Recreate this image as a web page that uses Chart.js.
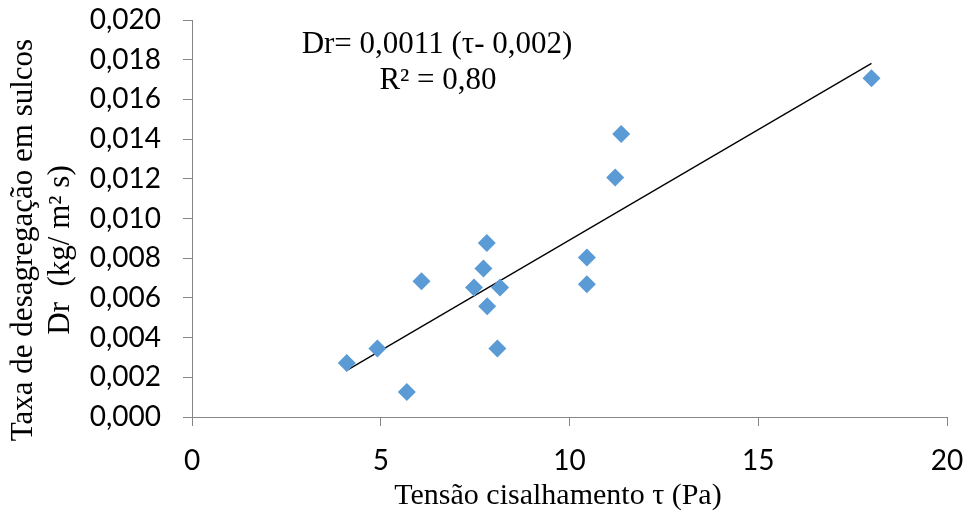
<!DOCTYPE html>
<html>
<head>
<meta charset="utf-8">
<script src="https://cdn.jsdelivr.net/npm/chart.js@4"></script>
<style>
  html, body { margin: 0; padding: 0; background: #fff; }
  #wrap { width: 965px; height: 521px; }
</style>
</head>
<body>
<div id="wrap"><canvas id="chart" width="965" height="521"></canvas></div>
<script>
// Data
const tau = [4.10, 4.91, 5.69, 6.08, 7.47, 7.72, 7.81, 7.82, 8.16, 8.09, 10.46, 10.46, 11.21, 11.37, 18.0];
const dr = [0.00272, 0.00345, 0.00126, 0.00684, 0.00652, 0.00748, 0.00877, 0.00558, 0.00652, 0.00345, 0.00804, 0.00669, 0.01207, 0.01426, 0.01706];
const xTicks = [0, 5, 10, 15, 20];
const yTicks = [0, 0.002, 0.004, 0.006, 0.008, 0.010, 0.012, 0.014, 0.016, 0.018, 0.020];

const yTitle = ['Taxa de desagregação em sulcos', 'Dr  (kg/ m² s)'];
const xTitle = 'Tensão cisalhamento τ (Pa)';
const equation = ['Dr= 0,0011 (τ- 0,002)', 'R² = 0,80'];

// least squares trend line over the points
function fitLine(xs, ys) {
  const n = xs.length;
  const mx = xs.reduce((a, b) => a + b, 0) / n;
  const my = ys.reduce((a, b) => a + b, 0) / n;
  let sxy = 0, sxx = 0;
  for (let i = 0; i < n; i++) {
    sxy += (xs[i] - mx) * (ys[i] - my);
    sxx += (xs[i] - mx) * (xs[i] - mx);
  }
  const b = sxy / sxx;
  return { b: b, a: my - b * mx };
}
const fit = fitLine(tau, dr);
const xMin = Math.min(...tau), xMax = Math.max(...tau);
const trend = [
  { x: xMin, y: fit.a + fit.b * xMin },
  { x: xMax, y: fit.a + fit.b * xMax }
];

const points = tau.map((t, i) => ({ x: t, y: dr[i] }));

const axisColor = '#868686';
const serif = '"Liberation Serif", "Times New Roman", serif';

const textPlugin = {
  id: 'texts',
  afterDraw(chart) {
    const ctx = chart.ctx;
    ctx.save();
    ctx.fillStyle = '#000';
    ctx.textAlign = 'center';
    ctx.textBaseline = 'middle';

    // y title, rotated
    ctx.font = '31px ' + serif;
    ctx.save();
    ctx.translate(24, 240);
    ctx.rotate(-Math.PI / 2);
    ctx.fillText(yTitle[0], 0, 0);
    ctx.restore();
    ctx.save();
    ctx.translate(61, 250);
    ctx.rotate(-Math.PI / 2);
    ctx.fillText(yTitle[1], 0, 0);
    ctx.restore();

    // x title
    ctx.font = '30px ' + serif;
    ctx.fillText(xTitle, 558, 496);

    // equation
    ctx.font = '31px ' + serif;
    ctx.fillText(equation[0], 437, 45);
    ctx.fillText(equation[1], 438, 81);
    ctx.restore();
  }
};

new Chart(document.getElementById('chart'), {
  type: 'scatter',
  data: {
    datasets: [
      {
        label: 'Dr',
        data: points,
        pointStyle: 'rectRot',
        pointRadius: 9,
        pointHoverRadius: 9,
        backgroundColor: '#5B9BD5',
        borderColor: '#5B9BD5',
        borderWidth: 0
      },
      {
        label: 'Linear',
        type: 'line',
        data: trend,
        borderColor: '#000',
        borderWidth: 1.3,
        pointRadius: 0,
        fill: false,
        tension: 0
      }
    ]
  },
  options: {
    responsive: false,
    animation: false,
    devicePixelRatio: 1,
    layout: { padding: { top: 20, right: 18, left: 0, bottom: 0 } },
    plugins: {
      legend: { display: false },
      tooltip: { enabled: false }
    },
    scales: {
      x: {
        type: 'linear',
        min: 0,
        max: 20,
        afterBuildTicks: (s) => { s.ticks = xTicks.map(v => ({ value: v })); },
        afterFit: (s) => { s.height = 104; s.paddingLeft = 0; s.paddingRight = 0; },
        ticks: {
          color: '#000',
          font: { family: 'Lato', size: 28 },
          padding: 18,
          callback: (v) => String(v)
        },
        grid: { drawOnChartArea: false, drawTicks: true, tickLength: 9, color: axisColor },
        border: { color: axisColor, width: 1 }
      },
      y: {
        type: 'linear',
        min: 0,
        max: 0.02,
        afterBuildTicks: (s) => { s.ticks = yTicks.map(v => ({ value: v })); },
        afterFit: (s) => { s.width = 192; s.paddingTop = 0; s.paddingBottom = 0; },
        ticks: {
          color: '#000',
          font: { family: 'Lato', size: 28 },
          padding: 22,
          callback: (v) => v.toFixed(3).replace('.', ',')
        },
        grid: { drawOnChartArea: false, drawTicks: true, tickLength: 9, color: axisColor },
        border: { color: axisColor, width: 1 }
      }
    }
  },
  plugins: [textPlugin]
});
</script>
</body>
</html>
